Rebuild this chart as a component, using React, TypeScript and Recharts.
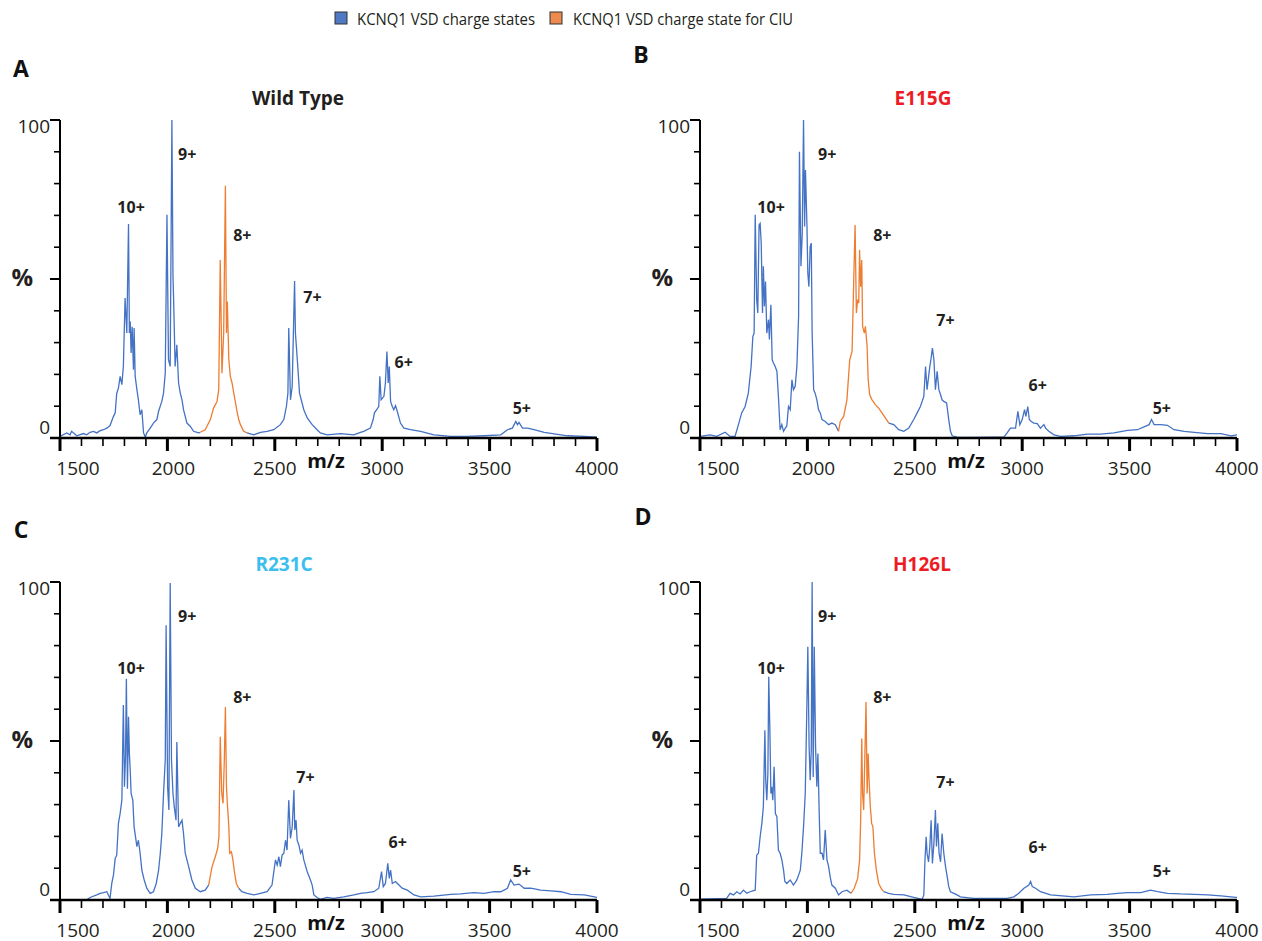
import React from "react";
import { LineChart, Line, XAxis, YAxis, ReferenceDot } from "recharts";

const BLUE = "#4472C4";
const ORANGE = "#ED7D31";
const INK = "#231f20";
const FONT = "'Open Sans', 'Noto Sans', sans-serif";

const xTicks = [
  1500, 1600, 1700, 1800, 1900, 2000, 2100, 2200, 2300, 2400, 2500, 2600, 2700,
  2800, 2900, 3000, 3100, 3200, 3300, 3400, 3500, 3600, 3700, 3800, 3900, 4000,
];
const yTicks = [0, 10, 20, 30, 40, 50, 60, 70, 80, 90, 100];
const chargeStates = ["10+", "9+", "8+", "7+", "6+", "5+"];

// [m/z, relative intensity %]
const wildType: [number, number][] = [
  [1500, 0.5], [1531, 1.6], [1547, 1.0], [1554, 2.1], [1578, 0.7], [1609, 1.4], [1624, 1.0],
  [1640, 1.8], [1656, 2.1], [1671, 1.6], [1687, 2.3], [1702, 2.6], [1718, 3.1], [1733, 3.9],
  [1749, 6.8], [1757, 7.9], [1764, 14], [1772, 15.7], [1780, 19.4], [1788, 16.8], [1795, 22.5],
  [1803, 44], [1811, 33], [1819, 67.3], [1823, 33], [1827, 36.6], [1831, 26.7], [1836, 35],
  [1842, 21.5], [1845, 34.6], [1850, 19.4], [1858, 15.2], [1865, 12], [1873, 7.3], [1881, 8.9],
  [1889, 1.6], [1897, 0.3], [1904, 1.6], [1920, 3.1], [1935, 4.7], [1951, 5.8], [1959, 8.4],
  [1974, 11.5], [1982, 14.1], [1990, 20.4], [1998, 70.2], [2005, 24.6], [2013, 22.5], [2021, 100],
  [2026, 50.8], [2029, 43.5], [2036, 22.5], [2044, 29.3], [2052, 17.3], [2060, 14.1], [2068, 12],
  [2075, 8.9], [2091, 4.7], [2106, 3.7], [2122, 2.1], [2145, 1.6], [2153, 1.8], [2176, 2.6],
  [2200, 5.8], [2215, 9.4], [2231, 11.5], [2239, 15.2], [2246, 56], [2254, 20.4], [2262, 33],
  [2270, 79.3], [2275, 33], [2279, 42.9], [2286, 24.6], [2293, 19.4], [2301, 17.3], [2309, 14.1],
  [2316, 11.5], [2324, 8.4], [2332, 5.8], [2340, 4.2], [2355, 2.1], [2371, 1.6], [2402, 1.0],
  [2433, 1.8], [2464, 2.1], [2495, 2.6], [2526, 4.2], [2542, 5.8], [2554, 9.9], [2561, 14.1],
  [2565, 34.6], [2573, 12], [2581, 16.2], [2592, 49.4], [2596, 33], [2601, 28.3], [2607, 22.5],
  [2615, 14.1], [2627, 11], [2635, 8.9], [2651, 6.3], [2674, 4.2], [2697, 2.6], [2712, 1.6],
  [2743, 1.0], [2806, 1.4], [2868, 1.0], [2899, 1.8], [2914, 2.1], [2945, 3.1], [2958, 5.8],
  [2964, 7.9], [2984, 9.9], [2989, 19.4], [2995, 12], [3008, 13.1], [3015, 17.3], [3022, 27.2],
  [3028, 17.3], [3033, 22.5], [3039, 11.5], [3047, 9.9], [3054, 8.9], [3062, 10.2], [3070, 8.4],
  [3085, 4.7], [3101, 3.1], [3132, 2.6], [3179, 2.1], [3241, 1.0], [3319, 0.5], [3396, 0.5],
  [3474, 0.7], [3552, 1.0], [3583, 2.6], [3606, 3.1], [3622, 5.2], [3630, 4.2], [3637, 4.9],
  [3653, 3.1], [3676, 3.1], [3707, 2.6], [3754, 1.8], [3801, 1.3], [3832, 1.0], [3863, 0.7],
  [3941, 0.5], [4000, 0.3],
];

const e115g: [number, number][] = [
  [1500, 0.5], [1547, 1.0], [1578, 0.5], [1617, 1.8], [1640, 0.5], [1663, 0.5], [1679, 4.2],
  [1694, 7.9], [1710, 9.9], [1725, 14.1], [1738, 22.5], [1746, 31.9], [1752, 33], [1757, 70.2],
  [1764, 43.5], [1769, 39.3], [1775, 67], [1780, 67.5], [1785, 61.3], [1791, 39.3], [1795, 54],
  [1800, 41.4], [1805, 49.2], [1811, 33], [1819, 37.2], [1823, 31], [1830, 41.9], [1836, 24.6],
  [1842, 23.6], [1850, 22.5], [1858, 21], [1865, 13.1], [1873, 2.6], [1881, 4.2], [1889, 2.1],
  [1897, 3.1], [1904, 3.7], [1912, 9.9], [1920, 8.9], [1928, 18.3], [1935, 15.2], [1943, 16.2],
  [1951, 22.5], [1959, 38.2], [1963, 90], [1970, 54], [1976, 64.4], [1982, 100], [1987, 66.5],
  [1991, 84.3], [1998, 66.5], [2002, 51.8], [2007, 47.6], [2013, 60.2], [2018, 61.3], [2022, 33.5],
  [2029, 15.2], [2036, 14.1], [2044, 12], [2052, 8.9], [2060, 7.9], [2068, 5.8], [2083, 5.2],
  [2099, 4.2], [2114, 4.7], [2130, 4.2], [2145, 2.1], [2153, 5.2], [2169, 6.8], [2184, 12],
  [2197, 24.6], [2208, 27.2], [2215, 47.6], [2222, 67], [2228, 39.3], [2234, 43.5], [2239, 42.4],
  [2243, 59.2], [2248, 47.6], [2253, 56], [2257, 35.1], [2265, 33], [2270, 35.1], [2278, 28.8],
  [2283, 18.3], [2290, 13.6], [2301, 12], [2316, 10.5], [2332, 9.4], [2347, 7.9], [2363, 6.3],
  [2379, 4.7], [2402, 4.2], [2425, 2.6], [2449, 2.1], [2472, 3.1], [2495, 5.8], [2511, 7.9],
  [2526, 9.9], [2542, 13.1], [2550, 22.5], [2557, 15.2], [2570, 22.5], [2576, 25.1], [2582, 28.3],
  [2589, 24.6], [2596, 15.2], [2604, 21], [2612, 15.2], [2620, 13.6], [2627, 12], [2635, 11.5],
  [2648, 11], [2658, 5.8], [2666, 2.1], [2674, 0.7], [2697, 0.3], [2712, 0.2], [2774, 0.2],
  [2852, 0.3], [2914, 0.3], [2930, 1.6], [2945, 3.1], [2969, 3.1], [2980, 8.4], [2989, 4.2],
  [3000, 5.8], [3011, 8.9], [3017, 6.8], [3026, 9.9], [3033, 5.8], [3042, 5.2], [3054, 4.7],
  [3070, 4.5], [3085, 3.1], [3101, 4.2], [3109, 3.1], [3124, 2.1], [3148, 1.0], [3179, 0.5],
  [3241, 0.7], [3303, 1.2], [3365, 1.2], [3427, 1.6], [3490, 2.4], [3536, 2.6], [3567, 3.5],
  [3591, 4.2], [3602, 5.8], [3614, 4.2], [3645, 4.2], [3676, 4.0], [3707, 2.6], [3754, 2.1],
  [3801, 1.8], [3863, 1.4], [3925, 1.4], [3972, 0.7], [4000, 1.0],
];

const r231c: [number, number][] = [
  [1500, 0], [1624, 0], [1640, 0.8], [1671, 1.6], [1687, 2.1], [1702, 2.3], [1718, 2.6],
  [1733, 0.5], [1741, 5.2], [1749, 7.9], [1757, 13.1], [1764, 14.1], [1772, 24.1], [1780, 27.2],
  [1788, 31.4], [1795, 61.3], [1800, 35.6], [1805, 45], [1809, 69.6], [1814, 35], [1819, 57.6],
  [1823, 46.1], [1827, 40.8], [1831, 33.5], [1839, 31.4], [1845, 23], [1858, 16.8], [1865, 18.8],
  [1873, 14.7], [1881, 9.4], [1892, 6.3], [1904, 3.7], [1920, 2.1], [1935, 2.6], [1948, 5.2],
  [1959, 9.4], [1967, 14.7], [1974, 20.9], [1982, 33.5], [1990, 44], [1994, 86.4], [2001, 35.6],
  [2007, 28.3], [2013, 99.7], [2019, 44], [2026, 33.5], [2032, 29.3], [2040, 25.1], [2044, 49.7],
  [2052, 23], [2060, 24.1], [2068, 25.1], [2075, 20.9], [2083, 14.7], [2099, 10.5], [2114, 6.3],
  [2130, 3.7], [2153, 2.6], [2176, 3.1], [2192, 4.7], [2208, 10.5], [2223, 13.6], [2234, 16.2],
  [2240, 19.9], [2246, 51.3], [2253, 33.5], [2259, 30.4], [2265, 44], [2270, 60.7], [2275, 35.6],
  [2279, 30.4], [2286, 23], [2290, 14.7], [2298, 15.2], [2305, 12.6], [2313, 8.4], [2321, 5.2],
  [2332, 3.7], [2347, 2.6], [2371, 2.1], [2402, 1.6], [2433, 2.1], [2464, 2.6], [2487, 4.7],
  [2503, 12.6], [2511, 11], [2519, 13.6], [2526, 10.5], [2534, 14.1], [2542, 14.7], [2550, 18.8],
  [2557, 15.7], [2565, 31.4], [2573, 19.4], [2581, 23], [2589, 34.6], [2593, 22], [2599, 25.1],
  [2604, 18.8], [2612, 17.3], [2620, 14.7], [2627, 15.7], [2635, 12.6], [2651, 8.9], [2666, 6.3],
  [2674, 4.7], [2682, 1.6], [2697, 0.8], [2712, 0.2], [2743, 0.8], [2774, 0.5], [2821, 1.0],
  [2868, 1.6], [2899, 2.1], [2930, 2.3], [2961, 2.6], [2984, 3.7], [2997, 8.9], [3005, 4.2],
  [3015, 5.2], [3026, 11.5], [3033, 6.8], [3039, 9.4], [3047, 5.2], [3062, 5.8], [3078, 4.7],
  [3093, 3.7], [3117, 3.1], [3148, 1.6], [3179, 1.0], [3241, 1.2], [3319, 1.8], [3365, 1.9],
  [3427, 2.3], [3474, 2.1], [3521, 2.6], [3552, 2.6], [3583, 3.7], [3598, 6.3], [3614, 4.7],
  [3637, 5.0], [3661, 3.7], [3692, 3.7], [3738, 3.1], [3785, 2.9], [3832, 2.6], [3878, 1.8],
  [3941, 1.6], [4000, 0.8],
];

const h126l: [number, number][] = [
  [1500, 0.3], [1624, 0.5], [1640, 2.1], [1656, 1.6], [1671, 2.6], [1687, 1.9], [1702, 3.1],
  [1718, 2.1], [1733, 2.6], [1757, 3.1], [1764, 14.1], [1772, 14.7], [1780, 19.9], [1788, 24.1],
  [1795, 29.3], [1802, 53.4], [1806, 37.7], [1811, 31.4], [1816, 39.8], [1820, 70.2], [1825, 54.5],
  [1830, 33.5], [1834, 35.6], [1839, 31.4], [1845, 41.9], [1851, 27.2], [1858, 26.2], [1865, 15.7],
  [1873, 14.7], [1881, 12.6], [1889, 9.4], [1895, 5.8], [1904, 5.2], [1920, 6.3], [1935, 4.7],
  [1951, 6.3], [1967, 9.4], [1974, 14.7], [1982, 23], [1990, 33.5], [1998, 62.8], [2002, 79.6],
  [2008, 48.2], [2013, 37.7], [2018, 47.1], [2022, 100], [2027, 38.7], [2032, 79.6], [2038, 48.2],
  [2044, 35.6], [2049, 46.1], [2055, 27.2], [2060, 14.7], [2068, 14.7], [2075, 12.6], [2083, 22],
  [2091, 12.6], [2099, 10.5], [2106, 7.3], [2114, 4.7], [2130, 3.7], [2145, 1.6], [2161, 2.6],
  [2184, 3.1], [2203, 2.1], [2218, 3.7], [2234, 6.8], [2243, 12.6], [2248, 25.1], [2253, 50.8],
  [2257, 33.5], [2262, 28.3], [2267, 43.9], [2273, 62.3], [2278, 33.5], [2283, 46.1], [2287, 37.7],
  [2293, 29.3], [2299, 24.1], [2305, 23], [2312, 14.7], [2321, 9.4], [2332, 5.2], [2343, 3.7],
  [2355, 2.6], [2379, 2.1], [2402, 1.8], [2449, 1.6], [2495, 0.8], [2534, 0.2], [2542, 1.6],
  [2547, 12], [2553, 19.9], [2557, 14.7], [2564, 12], [2570, 16.8], [2576, 25.1], [2582, 11.5],
  [2589, 17.8], [2596, 28.3], [2601, 16.8], [2607, 24.1], [2613, 14.7], [2620, 12], [2627, 20.9],
  [2635, 14.7], [2643, 10.5], [2651, 7.3], [2658, 4.2], [2666, 2.6], [2682, 2.1], [2697, 1.6],
  [2712, 1.0], [2774, 0.5], [2852, 0.5], [2930, 0.5], [2961, 1.0], [2984, 2.1], [3008, 3.7],
  [3031, 4.7], [3039, 5.8], [3047, 4.2], [3062, 3.7], [3085, 2.6], [3132, 1.6], [3241, 1.0],
  [3319, 1.6], [3396, 1.8], [3443, 2.1], [3490, 2.3], [3552, 2.3], [3598, 3.1], [3630, 2.6],
  [3676, 2.1], [3738, 1.9], [3801, 1.8], [3863, 1.6], [3925, 1.3], [3995, 0.8], [4000, 0.8],
];

// m/z window of the charge state used for CIU (drawn orange)
const wildTypeCiu = [2153, 2371];
const e115gCiu = [2145, 2379];
const r231cCiu = [2192, 2332];
const h126lCiu = [2203, 2355];

// where each charge-state label sits (m/z, %)
const wildTypeLabelMz = [1831, 2092, 2349, 2675, 3100, 3650];
const wildTypeLabelPct = [72.6, 89.3, 63.8, 44.3, 23.9, 9.4];
const e115gLabelMz = [1831, 2092, 2349, 2643, 3072, 3650];
const e115gLabelPct = [72.6, 89.3, 63.8, 37.1, 16.7, 9.4];
const r231cLabelMz = [1831, 2092, 2349, 2643, 3072, 3650];
const r231cLabelPct = [73, 89.3, 63.8, 38.7, 18.2, 9.1];
const h126lLabelMz = [1831, 2092, 2349, 2643, 3072, 3650];
const h126lLabelPct = [73, 89.3, 63.8, 37.1, 16.7, 9.1];

type Row = { mz: number; blue: number | null; orange: number | null };

function toRows(spectrum: [number, number][], ciu: number[]): Row[] {
  return spectrum.map(([mz, v]) => ({
    mz,
    blue: mz <= ciu[0] || mz >= ciu[1] ? v : null,
    orange: mz >= ciu[0] && mz <= ciu[1] ? v : null,
  }));
}

const panels = [
  {
    letter: "A", title: "Wild Type", titleColor: INK, rows: toRows(wildType, wildTypeCiu),
    labelMz: wildTypeLabelMz, labelPct: wildTypeLabelPct,
    left: 0, top: 100, letterX: 21, letterY: 77, titleX: 298, titleY: 105,
  },
  {
    letter: "B", title: "E115G", titleColor: "#ed1c24", rows: toRows(e115g, e115gCiu),
    labelMz: e115gLabelMz, labelPct: e115gLabelPct,
    left: 640, top: 100, letterX: 641, letterY: 63, titleX: 923, titleY: 105,
  },
  {
    letter: "C", title: "R231C", titleColor: "#3cbfef", rows: toRows(r231c, r231cCiu),
    labelMz: r231cLabelMz, labelPct: r231cLabelPct,
    left: 0, top: 562, letterX: 21, letterY: 538, titleX: 284, titleY: 571,
  },
  {
    letter: "D", title: "H126L", titleColor: "#ed1c24", rows: toRows(h126l, h126lCiu),
    labelMz: h126lLabelMz, labelPct: h126lLabelPct,
    left: 640, top: 562, letterX: 643, letterY: 525, titleX: 922, titleY: 571,
  },
];

function YTick({ x, y, payload }: any) {
  const v = payload.value;
  const major = v % 50 === 0;
  return (
    <g>
      <line x1={x - (major ? 10 : 6)} x2={x} y1={y} y2={y} stroke="#000" strokeWidth={v === 0 ? 2.5 : major ? 2 : 1.6} />
      {v === 100 && (
        <text x={x - 10} y={y + 13} textAnchor="end" fontSize={19} fill={INK} fontFamily={FONT}>100</text>
      )}
      {v === 0 && (
        <text x={x - 10} y={y - 4} textAnchor="end" fontSize={19} fill={INK} fontFamily={FONT}>0</text>
      )}
      {v === 50 && (
        <text x={x - 27} y={y + 7} textAnchor="end" fontSize={24} fontWeight={700} fill={INK} fontFamily={FONT}>%</text>
      )}
    </g>
  );
}

function XTick({ x, y, payload }: any) {
  const v = payload.value;
  const major = v % 500 === 0;
  const dx = v === 1500 ? 18 : v === 2000 ? 6 : 0;
  return (
    <g>
      <line x1={x} x2={x} y1={y} y2={y + (major ? 13 : 8)} stroke="#000" strokeWidth={major ? 3 : 1.6} />
      {major && (
        <text x={x + dx} y={y + 37} textAnchor="middle" fontSize={19} fill={INK} fontFamily={FONT}>{v}</text>
      )}
    </g>
  );
}

export default function App() {
  return (
    <div style={{ position: "absolute", left: 0, top: 0, width: 1262, height: 941, background: "#fff", fontFamily: FONT }}>
      {panels.map((p) => (
        <div key={p.letter} style={{ position: "absolute", left: p.left, top: p.top }}>
          <LineChart width={620} height={400} data={p.rows} margin={{ top: 20, right: 23, bottom: 22, left: 10 }}>
            <XAxis
              dataKey="mz"
              type="number"
              domain={[1500, 4000]}
              ticks={xTicks}
              interval={0}
              allowDataOverflow
              tick={(props: any) => <XTick {...props} />}
              tickLine={false}
              tickSize={0}
              tickMargin={0}
              axisLine={{ stroke: "#000", strokeWidth: 2.5 }}
              height={40}
            />
            <YAxis
              type="number"
              domain={[0, 100]}
              ticks={yTicks}
              interval={0}
              allowDataOverflow
              tick={(props: any) => <YTick {...props} />}
              tickLine={false}
              tickSize={0}
              tickMargin={0}
              axisLine={{ stroke: "#000", strokeWidth: 2 }}
              width={50}
            />
            <Line type="linear" dataKey="blue" stroke={BLUE} strokeWidth={1.3} dot={false} activeDot={false} connectNulls={false} isAnimationActive={false} />
            <Line type="linear" dataKey="orange" stroke={ORANGE} strokeWidth={1.3} dot={false} activeDot={false} connectNulls={false} isAnimationActive={false} />
            {chargeStates.map((c, i) => (
              <ReferenceDot
                key={c}
                x={p.labelMz[i]}
                y={p.labelPct[i]}
                r={0}
                shape={(s: any) => (
                  <text x={s.cx} y={s.cy} textAnchor="middle" dominantBaseline="central" fontSize={16} fontWeight={700} fill={INK} fontFamily={FONT}>
                    {c}
                  </text>
                )}
              />
            ))}
          </LineChart>
        </div>
      ))}
      <svg width={1262} height={941} style={{ position: "absolute", left: 0, top: 0, pointerEvents: "none" }} fontFamily={FONT}>
        <rect x={335} y={12} width={12} height={12} fill="#4f79c2" stroke="#333" strokeWidth={1} />
        <text x={357} y={25} fontSize={16} fill={INK} textLength={178} lengthAdjust="spacingAndGlyphs">KCNQ1 VSD charge states</text>
        <rect x={550} y={12} width={12} height={12} fill="#ec8a4f" stroke="#333" strokeWidth={1} />
        <text x={573} y={25} fontSize={16} fill={INK} textLength={220} lengthAdjust="spacingAndGlyphs">KCNQ1 VSD charge state for CIU</text>
        {panels.map((p) => (
          <g key={p.letter}>
            <text x={p.letterX} y={p.letterY} textAnchor="middle" fontSize={23} fontWeight={700} fill="#111">{p.letter}</text>
            <text x={p.titleX} y={p.titleY} textAnchor="middle" fontSize={19} fontWeight={700} fill={p.titleColor}>{p.title}</text>
            <text x={p.left + 60 + 266} y={p.top + 20 + 318 + 30} textAnchor="middle" fontSize={20} fontWeight={700} fill="#111">m/z</text>
          </g>
        ))}
      </svg>
    </div>
  );
}
